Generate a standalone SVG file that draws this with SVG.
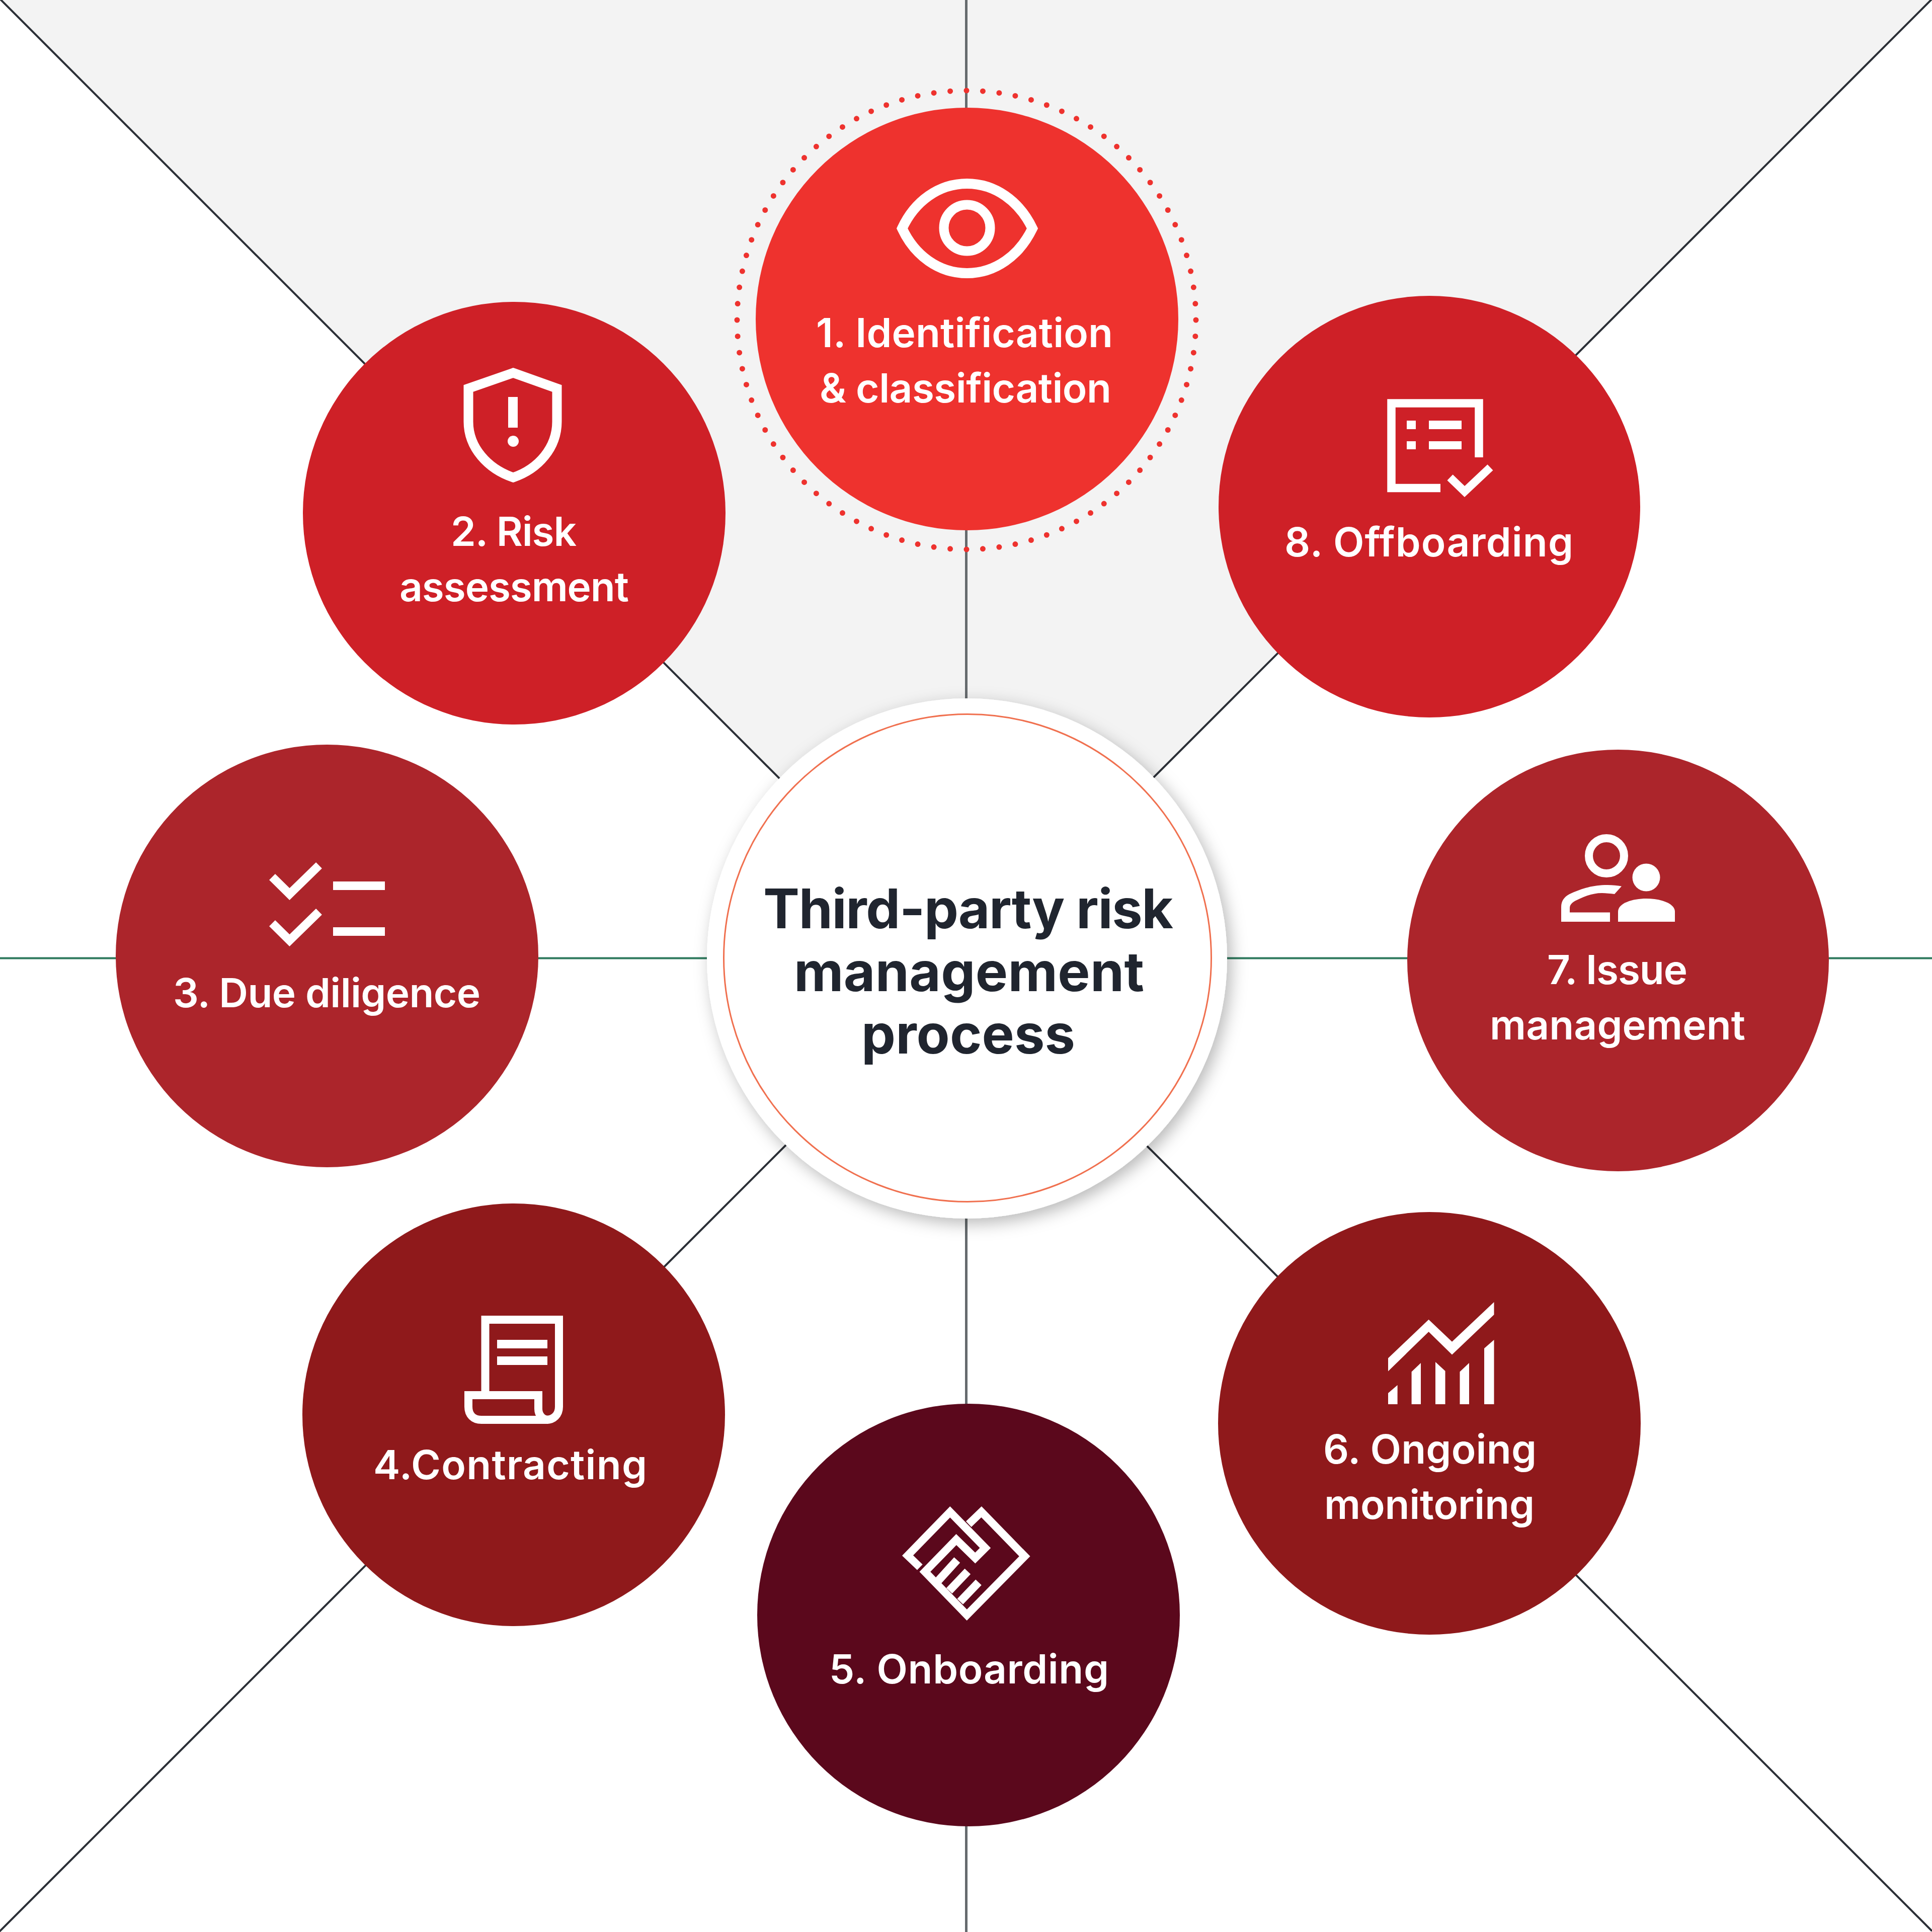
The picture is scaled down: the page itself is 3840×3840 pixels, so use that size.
<svg xmlns="http://www.w3.org/2000/svg" width="3840" height="3840" viewBox="0 0 3840 3840">
<style>
.t{font-family:"Inter","Liberation Sans",sans-serif;font-size:80px;font-weight:600;fill:#fff}
.c{font-family:"Inter","Liberation Sans",sans-serif;font-size:108px;font-weight:700;fill:#20252f}
.s{fill:none;stroke:#fff;stroke-linejoin:miter;stroke-miterlimit:10}
.f{fill:#fff}
.d{stroke:#2b2f36;stroke-width:4;fill:none}
.v{stroke:#666b6e;stroke-width:5;fill:none}
.h{stroke:#2f7a5e;stroke-width:4;fill:none}
</style>
<defs>
<filter id="sh" x="-20%" y="-20%" width="140%" height="140%"><feDropShadow dx="8" dy="10" stdDeviation="16" flood-color="#000" flood-opacity="0.28"/></filter>
</defs>
<rect width="3840" height="3840" fill="#fff"/>
<polygon points="0,0 3840,0 1920,1920" fill="#f3f3f3"/>
<g id="connectors">
<line class="d" x1="0" y1="-2" x2="3840" y2="3838"/>
<line class="d" x1="3839" y1="-1" x2="-1" y2="3839"/>
<line class="v" x1="1920.5" y1="0" x2="1920.5" y2="3840"/>
<line class="h" x1="0" y1="1904.5" x2="3840" y2="1904.5"/>
</g>
<g id="center">
<circle cx="1922" cy="1905" r="517" fill="#fff" filter="url(#sh)"/>
<circle cx="1923" cy="1904" r="484.500" fill="#fff" stroke="#f0704f" stroke-width="3"/>
<text class="c" x="1517" y="1845" textLength="815">Third-party risk</text>
<text class="c" x="1578" y="1970" textLength="696">management</text>
<text class="c" x="1712" y="2094" textLength="425">process</text>
</g>
<g id="node1">
<circle cx="1921" cy="636" r="456" fill="none" stroke="#ee322e" stroke-width="11" stroke-linecap="round" stroke-dasharray="0 1" pathLength="88"/>
<circle cx="1922" cy="634" r="420" fill="#ee322e"/>
<path class="s" stroke-width="20" d="M1793 454C1818 400 1866 365 1922 365C1978 365 2026 400 2052 454C2026 508 1978 543 1922 543C1866 543 1818 508 1793 454Z"/>
<circle class="s" cx="1922" cy="453" r="46" stroke-width="19"/>
<text class="t" x="1622" y="690" textLength="590">1. Identification</text>
<text class="t" x="1629" y="800" textLength="580">&amp; classification</text>
</g>
<g id="node2">
<circle cx="1022" cy="1020" r="420" fill="#ce2027"/>
<path class="s" stroke-width="19" d="M1020 741L1107 772V838C1107 890 1070 932 1020 949C970 932 931 890 931 838V772Z"/>
<rect class="f" x="1010" y="789" width="19" height="61"/>
<circle class="f" cx="1020" cy="877" r="11"/>
<text class="t" x="896" y="1085" textLength="250">2. Risk</text>
<text class="t" x="794" y="1195" textLength="456">assessment</text>
</g>
<g id="node3">
<circle cx="650" cy="1900" r="420" fill="#ac252b"/>
<path class="s" stroke-width="17" d="M541 1743L575.500 1777L634 1720M541 1835L575.500 1869L634 1812"/>
<rect class="f" x="662" y="1752" width="103" height="17"/>
<rect class="f" x="662" y="1843" width="103" height="17"/>
<text class="t" x="344" y="2002" textLength="611">3. Due diligence</text>
</g>
<g id="node4">
<circle cx="1021" cy="2812" r="420" fill="#8f191b"/>
<path class="s" stroke-width="16" d="M964.500 2773V2623H1111V2796C1111 2812 1100 2822 1086 2822H957C941 2822 931 2812 931 2796V2773H1070V2800C1070 2812 1078 2822 1090 2822"/>
<rect class="f" x="988" y="2663" width="100" height="17"/>
<rect class="f" x="988" y="2696" width="100" height="17"/>
<text class="t" x="742" y="2940" textLength="544">4.Contracting</text>
</g>
<g id="node5">
<circle cx="1925" cy="3210" r="420" fill="#5b081c"/>
<path class="s" stroke-width="15.500" d="M1828.300 3115L1804 3091.700L1888.300 3005L1958.300 3076.700L1938.300 3096.700L1900.700 3060L1838.300 3124L1921.700 3210L2036.700 3093.300L1950.700 3005L1925.300 3029.300"/>
<path class="s" stroke-width="16" d="M1902.300 3100.700L1865 3141.700M1923.300 3123.300L1886.700 3161.700M1945 3145L1908.300 3183.300"/>
<text class="t" x="1648" y="3346" textLength="556">5. Onboarding</text>
</g>
<g id="node6">
<circle cx="2841" cy="2829" r="420" fill="#8f191b"/>
<polygon class="f" points="2759,2699.600 2839.600,2622.800 2886,2666.700 2969.500,2588 2969.500,2613 2886,2692.500 2839.600,2647 2759,2725.400"/>
<polygon class="f" points="2759,2769 2777.600,2753 2777.600,2791 2759,2791"/>
<polygon class="f" points="2805.600,2726.500 2824,2709 2824,2791 2805.600,2791"/>
<polygon class="f" points="2853,2707 2872.500,2725 2872.500,2791 2853,2791"/>
<polygon class="f" points="2901.500,2726.500 2920,2709 2920,2791 2901.500,2791"/>
<polygon class="f" points="2950,2680 2969.500,2663 2969.500,2791 2950,2791"/>
<text class="t" x="2630" y="2909" textLength="424">6. Ongoing</text>
<text class="t" x="2632" y="3019" textLength="418">monitoring</text>
</g>
<g id="node7">
<circle cx="3216" cy="1909" r="419" fill="#ac252b"/>
<circle class="s" cx="3193" cy="1701" r="35" stroke-width="16"/>
<circle class="f" cx="3272" cy="1744" r="27.500"/>
<path class="f" d="M3216 1832V1812C3216 1795 3245 1786 3272 1786C3300 1786 3329 1795 3329 1812V1832Z"/>
<path class="f" d="M3200 1832H3103V1803C3103 1788 3112 1780 3124 1775C3145 1766 3165 1759 3195 1759C3205 1759 3215 1760 3223 1761.500L3209 1777C3200 1776 3192 1775 3184 1775C3165 1775 3148 1782 3134 1789C3125 1793 3120 1798 3120 1805V1813.600H3200Z"/>
<text class="t" x="3075" y="1956" textLength="279">7. Issue</text>
<text class="t" x="2961" y="2066" textLength="508">management</text>
</g>
<g id="node8">
<circle cx="2841" cy="1007" r="419" fill="#ce2027"/>
<path class="s" stroke-width="16.500" d="M2863 970H2765.500V801.500H2939.500V909"/>
<rect class="f" x="2796" y="836" width="18" height="17"/>
<rect class="f" x="2796" y="877" width="18" height="16"/>
<rect class="f" x="2840" y="836" width="65" height="17"/>
<rect class="f" x="2840" y="877" width="65" height="16"/>
<path class="s" stroke-width="16" d="M2882 949L2911 977L2962 929"/>
<text class="t" x="2553" y="1106" textLength="574">8. Offboarding</text>
</g>
</svg>
